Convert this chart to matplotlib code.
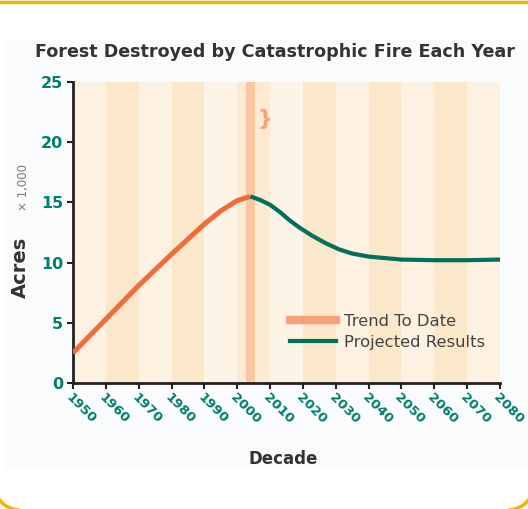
import matplotlib
matplotlib.use("Agg")
import matplotlib.pyplot as plt
from matplotlib.lines import Line2D
from matplotlib.patches import Arc, Rectangle

# data
trend_years = [1950, 1960, 1970, 1980, 1990, 1995, 2000, 2004]
trend_acres = [2.5, 5.3, 8.1, 10.7, 13.2, 14.3, 15.15, 15.5]

proj_years = [2004, 2007, 2010, 2013, 2016, 2019, 2023, 2027, 2031, 2035, 2040, 2050, 2060, 2070, 2080]
proj_acres = [15.5, 15.2, 14.8, 14.2, 13.5, 12.9, 12.2, 11.6, 11.1, 10.75, 10.5, 10.25, 10.2, 10.2, 10.25]

decades = list(range(1950, 2090, 10))
y_ticks = [0, 5, 10, 15, 20, 25]
today = 2004

teal = "#007d6c"
orange = "#f26b3d"
green = "#00705a"

W, H = 528, 509
fig = plt.figure(figsize=(W / 100, H / 100), dpi=100)
fig.patch.set_facecolor("white")

# yellow card edge: straight top line, rounded bottom corners
fig.add_artist(Line2D([0, 1], [1 - 1.5 / H, 1 - 1.5 / H], transform=fig.transFigure,
                      color="#f5b400", lw=2.5, zorder=-2))
r = 26
for cx, t1, t2 in [(r - 6, 180, 270), (W - r + 6, 270, 360)]:
    fig.add_artist(Arc((cx / W, (r - 1) / H), 2 * r / W, 2 * r / H, theta1=t1, theta2=t2,
                       transform=fig.transFigure, color="#f5b400", lw=2.5, zorder=-2))
fig.add_artist(Rectangle((5 / W, 1 - 468 / H), 523 / W, 428 / H, transform=fig.transFigure,
                         facecolor="#fafbfd", edgecolor="none", zorder=-1))

ax = fig.add_axes([73 / W, 1 - 383 / H, 427 / W, 301 / H])
ax.set_zorder(2)
ax.set_facecolor("#fdf4e6")

# alternating decade bands
band_cols = ["#fdf2e2", "#fbe7c9", "#fdf2e2", "#fbe7c9", "#fdf3e6", "#fcebd2",
             "#fdf3e6", "#fbe7c9", "#fdf2e2", "#fbe7c9", "#fdf2e2", "#fbe7c9", "#fdf2e2"]
for d, c in zip(decades[:-1], band_cols):
    ax.axvspan(d, d + 10, color=c, lw=0, zorder=0)
ax.axvspan(today - 1.3, today + 1.3, color="#f9c6a4", lw=0, zorder=1)
ax.text(today + 4.5, 21.9, "}", color="#f6a27c", fontsize=15, fontweight="bold",
        ha="center", va="center", zorder=2)

ax.plot(trend_years, trend_acres, color=orange, lw=3.6, solid_capstyle="butt",
        solid_joinstyle="round", zorder=3)
ax.plot(proj_years, proj_acres, color=green, lw=3.0, solid_capstyle="butt",
        solid_joinstyle="round", zorder=3)

ax.set_xlim(1950, 2080)
ax.set_ylim(0, 25)
ax.set_xticks(decades)
ax.set_xticklabels([str(d) for d in decades], rotation=-45, ha="left", va="top",
                   rotation_mode="anchor", color=teal, fontsize=9.5, fontweight="bold")
ax.set_yticks(y_ticks)
ax.set_yticklabels([str(v) for v in y_ticks], color=teal, fontsize=11.5, fontweight="bold")
ax.tick_params(axis="both", direction="out", length=4, width=1.5, color="#222222")
ax.tick_params(axis="x", pad=2)
ax.tick_params(axis="y", pad=3)
for s in ["top", "right"]:
    ax.spines[s].set_visible(False)
for s in ["left", "bottom"]:
    ax.spines[s].set_linewidth(2)
    ax.spines[s].set_color("#222222")

fig.text(35 / W, 1 - 52 / H, "Forest Destroyed by Catastrophic Fire Each Year",
         fontsize=12.6, fontweight="bold", color="#333333", ha="left", va="center")
fig.text(283 / W, 1 - 459 / H, "Decade", fontsize=12, fontweight="bold",
         color="#333333", ha="center", va="center")
fig.text(20 / W, 1 - 267 / H, "Acres", fontsize=14, fontweight="bold",
         color="#333333", ha="center", va="center", rotation=90)
fig.text(23 / W, 1 - 188 / H, "× 1,000", fontsize=8.5, color="#7a7a7a",
         ha="center", va="center", rotation=90)

handles = [Line2D([], [], color="#f7a07c", lw=6),
           Line2D([], [], color=green, lw=3)]
leg = ax.legend(handles, ["Trend To Date", "Projected Results"], loc="lower right",
                bbox_to_anchor=(1.0, 0.06), frameon=False, fontsize=11.8,
                handlelength=2.8, handletextpad=0.5, labelspacing=0.4)
for t in leg.get_texts():
    t.set_color("#444444")

fig.savefig("out.png", dpi=100, facecolor=fig.get_facecolor())
